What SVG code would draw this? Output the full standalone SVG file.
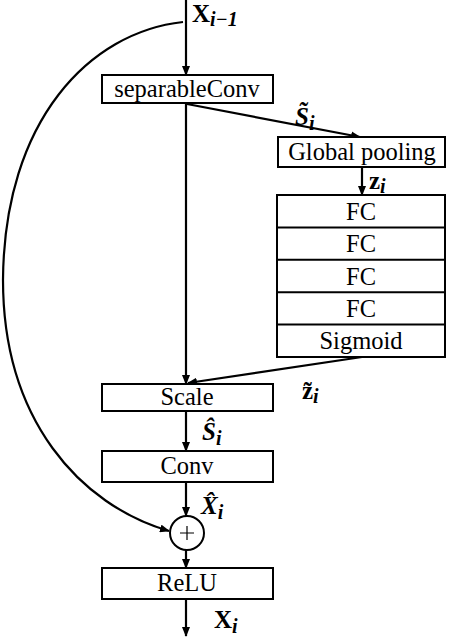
<svg xmlns="http://www.w3.org/2000/svg" width="450" height="638" viewBox="0 0 450 638">
<style>
.box{fill:#fff;stroke:#000;stroke-width:2}
.ln{fill:none;stroke:#000;stroke-width:2.2}
.t{font-family:"Liberation Serif","DejaVu Serif","Times New Roman",serif;font-size:24.5px;fill:#000;text-anchor:middle}
.m{font-family:"Liberation Serif","DejaVu Serif","Times New Roman",serif;font-size:25px;fill:#000;font-weight:bold}
.s{font-size:20px;font-style:italic}
</style>
<defs>
<marker id="ah" markerWidth="10" markerHeight="8" refX="9" refY="4" orient="auto" markerUnits="userSpaceOnUse">
<path d="M0,0 L10,4 L0,8 Z" fill="#000"/>
</marker>
</defs>
<rect width="450" height="638" fill="#fff"/>
<g id="connectors">
<line class="ln" x1="186" y1="0" x2="186" y2="75" marker-end="url(#ah)"/>
<path class="ln" d="M183,22 C90,32 4,120 3,280 C3,420 80,505 169,531" marker-end="url(#ah)"/>
<line class="ln" x1="186" y1="103" x2="186" y2="384" marker-end="url(#ah)"/>
<line class="ln" x1="187" y1="104" x2="360" y2="137" marker-end="url(#ah)"/>
<line class="ln" x1="362" y1="167" x2="362" y2="195" marker-end="url(#ah)"/>
<line class="ln" x1="362" y1="357" x2="188" y2="383" marker-end="url(#ah)"/>
<line class="ln" x1="186" y1="411" x2="186" y2="451" marker-end="url(#ah)"/>
<line class="ln" x1="186" y1="482" x2="186" y2="516" marker-end="url(#ah)"/>
<line class="ln" x1="186" y1="550" x2="186" y2="568" marker-end="url(#ah)"/>
<line class="ln" x1="186" y1="599" x2="186" y2="636" marker-end="url(#ah)"/>
</g>
<g id="sepconv"><rect class="box" x="102" y="75" width="171" height="28"/><text class="t" x="187" y="97">separableConv</text></g>
<g id="gpool"><rect class="box" x="278" y="137" width="167" height="30"/><text class="t" x="362" y="160">Global pooling</text></g>
<g id="fcstack">
<rect class="box" x="277" y="195" width="168" height="162"/>
<line class="box" x1="277" y1="227.4" x2="445" y2="227.4"/>
<line class="box" x1="277" y1="259.8" x2="445" y2="259.8"/>
<line class="box" x1="277" y1="292.2" x2="445" y2="292.2"/>
<line class="box" x1="277" y1="324.6" x2="445" y2="324.6"/>
<text class="t" x="361" y="219.5">FC</text>
<text class="t" x="361" y="252">FC</text>
<text class="t" x="361" y="284.5">FC</text>
<text class="t" x="361" y="317">FC</text>
<text class="t" x="361" y="349">Sigmoid</text>
</g>
<g id="scale"><rect class="box" x="102" y="384" width="171" height="27"/><text class="t" x="187" y="405">Scale</text></g>
<g id="conv"><rect class="box" x="102" y="451" width="171" height="31"/><text class="t" x="187" y="474">Conv</text></g>
<g id="add"><circle cx="187" cy="533" r="17" fill="#fff" stroke="#000" stroke-width="2"/><path d="M180,533 H194 M187,526 V540" stroke="#000" stroke-width="1.2"/></g>
<g id="relu"><rect class="box" x="102" y="568" width="171" height="31"/><text class="t" x="187" y="591">ReLU</text></g>
<g id="labels">
<text class="m" x="192" y="22">X<tspan class="s" dy="4">i−1</tspan></text>
<text class="m" x="295" y="125" font-style="italic">S̃<tspan class="s" dy="5">i</tspan></text>
<text class="m" x="369" y="189">z<tspan class="s" dy="4">i</tspan></text>
<text class="m" x="302" y="399">z̃<tspan class="s" dy="4">i</tspan></text>
<text class="m" x="202" y="440" font-style="italic">Ŝ<tspan class="s" dy="5">i</tspan></text>
<text class="m" x="201" y="514" font-style="italic">X̂<tspan class="s" dy="5">i</tspan></text>
<text class="m" x="214" y="628">X<tspan class="s" dy="5">i</tspan></text>
</g>
</svg>
